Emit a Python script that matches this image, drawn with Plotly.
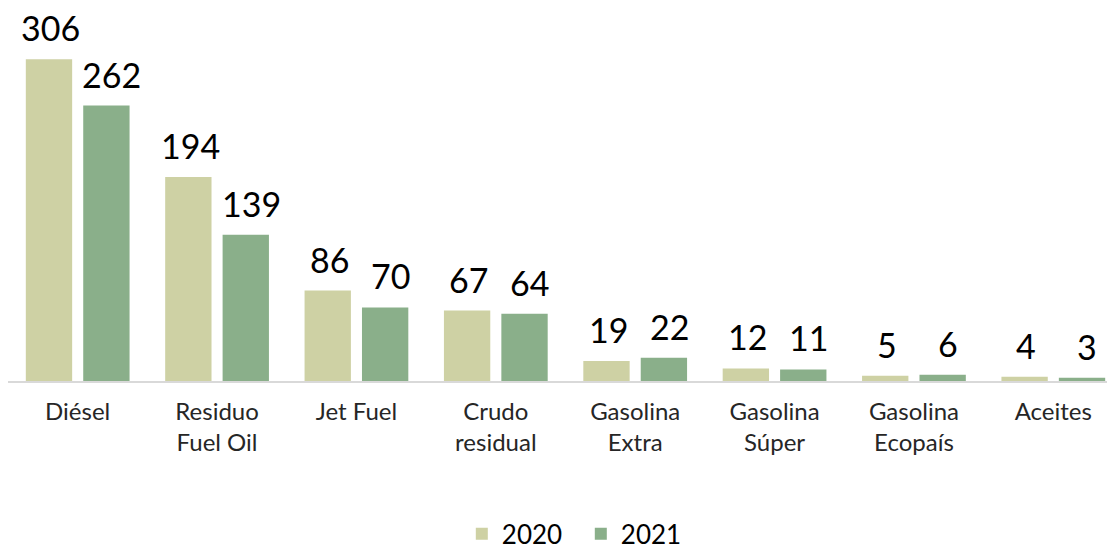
import plotly.graph_objects as go

categories = ["Diésel", "Residuo<br>Fuel Oil", "Jet Fuel", "Crudo<br>residual", "Gasolina<br>Extra",
              "Gasolina<br>Súper", "Gasolina<br>Ecopaís", "Aceites"]
v2020 = [306, 194, 86, 67, 19, 12, 5, 4]
v2021 = [262, 139, 70, 64, 22, 11, 6, 3]
series_names = ["2020", "2021"]
colors = ["#CED1A4", "#8AAF8A"]

FONT = "Lato"

fig = go.Figure()
for name, vals, col in zip(series_names, [v2020, v2021], colors):
    fig.add_trace(go.Bar(x=categories, y=vals, name=name, marker_color=col,
                         marker_line_width=0))

annotations = []
for vals, shift in [(v2020, -27), (v2021, 34)]:
    for c, v in zip(categories, vals):
        annotations.append(dict(x=c, y=v, xref="x", yref="y", text=str(v), showarrow=False,
                                xshift=shift, yshift=9, yanchor="bottom",
                                font=dict(family=FONT, size=34, color="#000000")))

fig.update_layout(
    width=1115, height=550,
    margin=dict(l=0, r=0, t=0, b=172),
    paper_bgcolor="white", plot_bgcolor="white",
    barmode="group", bargap=0.176, bargroupgap=0.193,
    font=dict(family=FONT, color="#262626"),
    annotations=annotations,
    legend=dict(orientation="h", x=0.407, xanchor="left", y=-0.41, yanchor="middle",
                font=dict(family=FONT, size=26, color="#000000"), itemwidth=30,
                entrywidth=74, traceorder="normal"),
    xaxis=dict(showline=True, linecolor="#D9D9D9", linewidth=2, ticks="",
               tickfont=dict(family=FONT, size=24, color="#262626"), ticklabelstandoff=8),
    yaxis=dict(visible=False, range=[0, 354.8], showgrid=False),
)

fig.write_html("out.html")
